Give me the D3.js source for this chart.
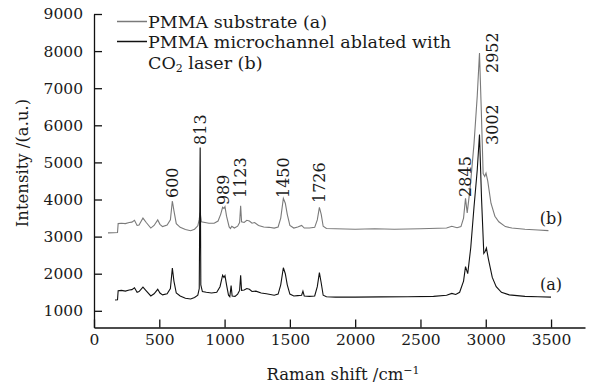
<!DOCTYPE html>
<html>
<head>
<meta charset="utf-8">
<script src="https://cdn.jsdelivr.net/npm/d3@7"></script>
<style>
  body { margin: 0; background: #fff; }
  svg text { font-family: "DejaVu Serif", serif; fill: #1a1a1a; }
</style>
</head>
<body>
<div id="chart"></div>
<script>
// Raman spectra: [wavenumber, intensity]
const substrateB = [
  [107,3100],[150,3105],[180,3110],[185,3350],[210,3360],[240,3350],[270,3380],[290,3390],
  [310,3440],[330,3300],[345,3310],[375,3500],[400,3380],[435,3230],[460,3300],[488,3450],
  [505,3330],[525,3270],[560,3310],[585,3450],[600,3960],[612,3700],[630,3350],[660,3250],
  [700,3190],[740,3160],[770,3200],[795,3290],[805,3450],[813,3650],[822,3400],[850,3380],
  [880,3360],[920,3360],[950,3420],[970,3600],[985,3790],[995,3760],[1003,3810],[1015,3550],
  [1035,3260],[1045,3220],[1055,3280],[1075,3230],[1100,3280],[1115,3380],[1123,3830],[1130,3400],
  [1150,3380],[1170,3440],[1190,3420],[1210,3360],[1230,3380],[1260,3300],[1300,3260],[1340,3250],
  [1380,3230],[1410,3260],[1430,3500],[1450,4030],[1465,3900],[1480,3600],[1500,3300],[1530,3230],
  [1560,3260],[1590,3300],[1610,3230],[1650,3230],[1690,3250],[1710,3450],[1726,3790],[1740,3600],
  [1755,3280],[1780,3220],[1850,3210],[2000,3200],[2150,3210],[2300,3200],[2500,3210],[2700,3230],
  [2740,3280],[2780,3240],[2810,3270],[2830,3500],[2845,4030],[2858,3640],[2880,4300],[2910,5500],
  [2935,6800],[2952,7950],[2965,6500],[2980,4700],[2992,4620],[3002,4710],[3015,4500],[3040,3900],
  [3070,3550],[3100,3400],[3150,3270],[3200,3230],[3300,3200],[3400,3180],[3480,3160]
];
const channelA = [
  [161,1290],[180,1300],[185,1540],[210,1550],[240,1530],[270,1560],[290,1570],[310,1620],
  [330,1500],[345,1520],[375,1640],[400,1540],[435,1400],[460,1460],[488,1580],[505,1480],
  [525,1430],[560,1460],[585,1600],[600,2150],[612,1800],[630,1480],[660,1400],[700,1340],
  [740,1320],[770,1360],[795,1420],[806,1600],[813,5400],[818,1700],[830,1520],[860,1500],
  [900,1480],[940,1500],[965,1650],[985,1960],[995,1900],[1003,1950],[1015,1700],[1030,1420],
  [1040,1380],[1050,1680],[1058,1400],[1080,1390],[1100,1450],[1115,1550],[1123,1960],[1130,1550],
  [1150,1560],[1170,1600],[1190,1580],[1210,1520],[1240,1530],[1280,1480],[1320,1460],[1380,1420],
  [1410,1450],[1430,1700],[1450,2160],[1465,2000],[1480,1700],[1500,1450],[1530,1400],[1560,1410],
  [1590,1420],[1600,1530],[1610,1400],[1650,1390],[1690,1400],[1710,1650],[1726,2030],[1740,1750],
  [1755,1420],[1780,1380],[1850,1370],[2000,1370],[2200,1375],[2400,1380],[2600,1390],[2700,1420],
  [2740,1470],[2770,1440],[2800,1500],[2830,1800],[2845,2190],[2862,2000],[2885,2700],[2910,3800],
  [2935,4800],[2952,5750],[2968,4000],[2985,2550],[2995,2600],[3005,2690],[3020,2400],[3050,1900],
  [3080,1650],[3120,1500],[3180,1430],[3300,1390],[3400,1380],[3500,1370]
];

// peak labels: text, wavenumber where it sits, intensity at its lower end
const peakNames = ["600", "813", "989", "1123", "1450", "1726", "2845", "2952", "3002"];
const peakAt = [600, 813, 989, 1123, 1450, 1726, 2845, 3050, 3050];
const peakBase = [4040, 5470, 3850, 4040, 4040, 3905, 4070, 7410, 5470];

const xTicks = [0, 500, 1000, 1500, 2000, 2500, 3000, 3500];
const yTicks = [1000, 2000, 3000, 4000, 5000, 6000, 7000, 8000, 9000];

const width = 594, height = 389;
const svg = d3.select("#chart").append("svg")
    .attr("width", width)
    .attr("height", height);

const x = d3.scaleLinear().domain([0, 3760]).range([94, 585]);
const y = d3.scaleLinear().domain([550, 9000]).range([327.5, 14]);

// axes, ticks pointing inward
const xAxis = svg.append("g")
    .attr("transform", `translate(0,${y(550)})`)
    .call(d3.axisBottom(x).tickValues(xTicks).tickFormat(d3.format("d"))
        .tickSizeInner(-8).tickSizeOuter(0).tickPadding(6));
const yAxis = svg.append("g")
    .attr("transform", `translate(${x(0)},0)`)
    .call(d3.axisLeft(y).tickValues(yTicks).tickFormat(d3.format("d"))
        .tickSizeInner(-8).tickSizeOuter(0).tickPadding(11));

[xAxis, yAxis].forEach(g => {
    g.selectAll("path, line").attr("stroke", "#111").attr("stroke-width", 1.3);
    g.selectAll("text").attr("font-size", 15.5).attr("font-family", "DejaVu Serif").attr("fill", "#1a1a1a");
});

const line = d3.line().x(d => x(d[0])).y(d => y(d[1]));

svg.append("path")
    .datum(substrateB)
    .attr("fill", "none")
    .attr("stroke", "#7a7a7a")
    .attr("stroke-width", 1.1)
    .attr("d", line);

svg.append("path")
    .datum(channelA)
    .attr("fill", "none")
    .attr("stroke", "#111")
    .attr("stroke-width", 1.1)
    .attr("d", line);

// peak labels (rotated)
peakNames.forEach((t, i) => {
    const px = x(peakAt[i]), py = y(peakBase[i]);
    svg.append("text")
        .attr("transform", `translate(${px},${py}) rotate(-90)`)
        .attr("dy", "0.35em")
        .attr("font-size", 16)
        .text(t);
});

// curve tags
svg.append("text").attr("x", x(3500)).attr("y", y(3500)).attr("dy", "0.35em")
    .attr("text-anchor", "middle").attr("font-size", 16).text("(b)");
svg.append("text").attr("x", x(3500)).attr("y", y(1700)).attr("dy", "0.35em")
    .attr("text-anchor", "middle").attr("font-size", 16).text("(a)");

// legend
const legend = svg.append("g");
legend.append("line").attr("x1", 117).attr("x2", 147).attr("y1", 21.5).attr("y2", 21.5)
    .attr("stroke", "#7a7a7a").attr("stroke-width", 1.5);
legend.append("line").attr("x1", 117).attr("x2", 147).attr("y1", 41.5).attr("y2", 41.5)
    .attr("stroke", "#111").attr("stroke-width", 1.5);
legend.append("text").attr("x", 148).attr("y", 27.5).attr("font-size", 17.5).text("PMMA substrate (a)");
legend.append("text").attr("x", 148).attr("y", 47.5).attr("font-size", 17.5).text("PMMA microchannel ablated with");
const co2 = legend.append("text").attr("x", 148).attr("y", 69).attr("font-size", 17.5);
co2.append("tspan").text("CO");
co2.append("tspan").attr("font-size", 11).attr("dy", 3).text("2");
co2.append("tspan").attr("dy", -3).text(" laser (b)");

// axis titles
svg.append("text")
    .attr("transform", `translate(28,163) rotate(-90)`)
    .attr("text-anchor", "middle")
    .attr("font-size", 16.5)
    .text("Intensity /(a.u.)");

const xt = svg.append("text")
    .attr("x", 343).attr("y", 380)
    .attr("text-anchor", "middle")
    .attr("font-size", 16.5);
xt.append("tspan").text("Raman shift /cm");
xt.append("tspan").attr("font-size", 11).attr("dy", -6).text("\u22121");
</script>
</body>
</html>
